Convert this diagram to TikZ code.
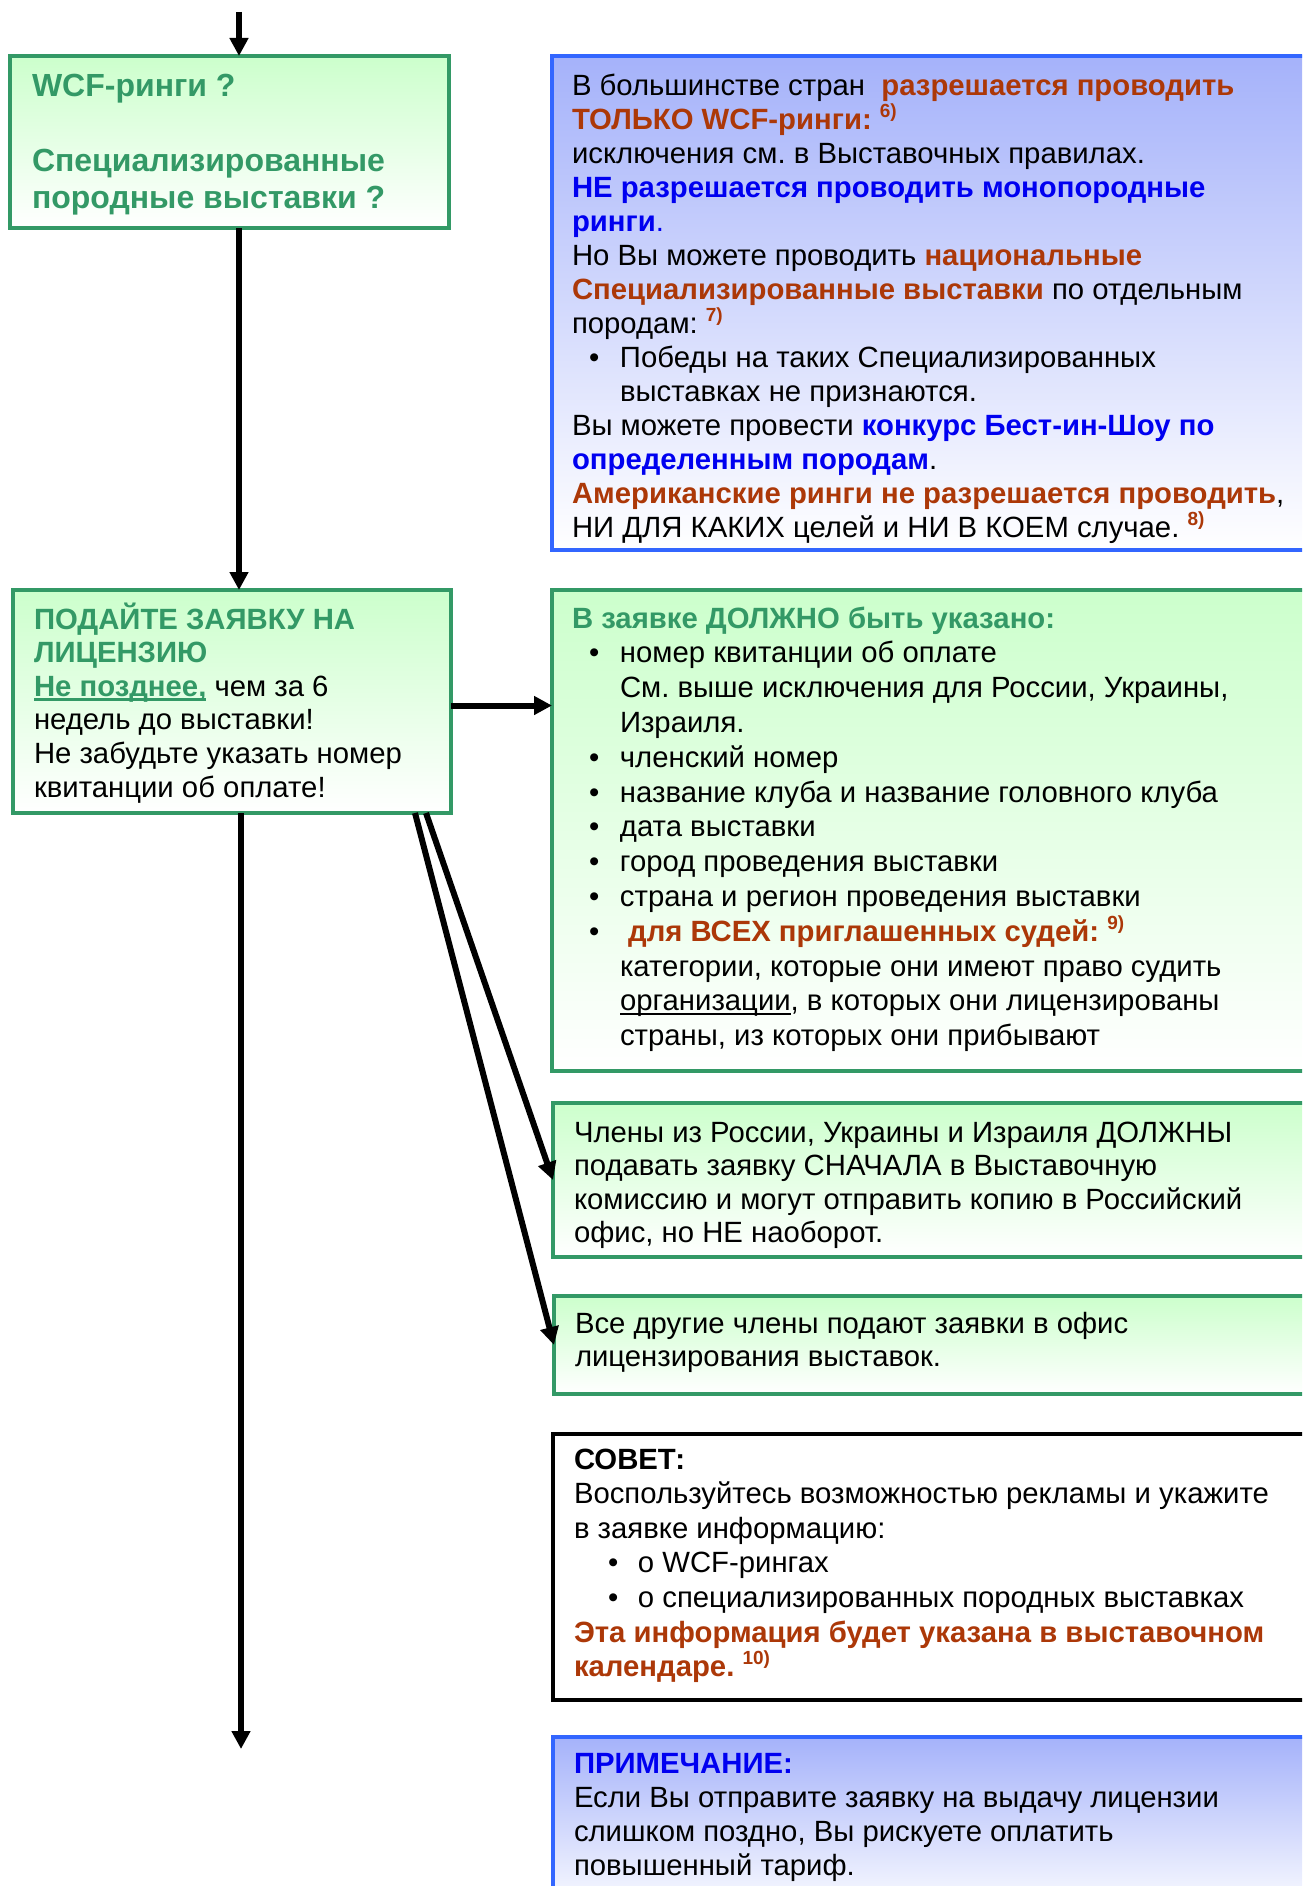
\documentclass[tikz,border=0pt]{standalone}
\usepackage{fontspec}
\setmainfont{Liberation Sans}
\usetikzlibrary{arrows.meta,calc}
\definecolor{gr}{RGB}{51,153,102}
\definecolor{grfill}{RGB}{204,255,204}
\definecolor{bl}{RGB}{51,102,255}
\definecolor{blfill}{RGB}{165,178,250}
\definecolor{org}{RGB}{172,56,8}
\definecolor{blt}{RGB}{0,0,240}
\newsavebox\ulbox
\newcommand\myul[2]{\sbox\ulbox{#2}\rlap{\rule[-4.5pt]{\wd\ulbox}{#1}}\usebox\ulbox}
\newcommand\fnm[1]{\raisebox{12pt}{\fontsize{19}{19}\selectfont\bfseries\color{org}#1}}
\newcommand\bul{\hspace*{17pt}\makebox[31pt][l]{•}}
\newcommand\bulE{\hspace*{34pt}\makebox[30pt][l]{•}}
\newcommand\ind{\hspace*{48pt}}
\newcommand\fs{\rule{0pt}{28pt}}
\frenchspacing
\begin{document}
\begin{tikzpicture}[x=1pt,y=-1pt,
  box/.style={draw,line width=4pt,outer sep=0pt,inner sep=0pt,anchor=north west},
  gbox/.style={box,draw=gr,top color=grfill,bottom color=white},
  bbox/.style={box,draw=bl,top color=blfill,bottom color=white},
  kbox/.style={box,draw=black,fill=white},
  txt/.style={anchor=north west,inner sep=0pt,outer sep=0pt,align=left,font=\fontsize{29.3}{33.6}\selectfont},
  arr/.style={line width=6pt,-{Triangle[width=18pt,length=18pt]}}
]
\useasboundingbox (0,0) rectangle (1302,1886);
\clip (0,0) rectangle (1302,1886);

% boxes
\node[gbox,minimum width=439pt,minimum height=172pt] (b1) at (10,56) {};
\node[gbox,minimum width=438pt,minimum height=223pt] (b2) at (13,590) {};
\node[bbox,minimum width=770pt,minimum height=494pt] (bA) at (552,56) {};
\node[gbox,minimum width=770pt,minimum height=481pt] (bB) at (552,590) {};
\node[gbox,minimum width=770pt,minimum height=154pt] (bC) at (553,1103) {};
\node[gbox,minimum width=770pt,minimum height=98pt] (bD) at (554,1296) {};
\node[kbox,minimum width=770pt,minimum height=266pt] (bE) at (553,1434) {};
\node[bbox,minimum width=770pt,minimum height=180pt] (bF) at (553,1737) {};

% connectors
\coordinate (top) at (239,12);
\coordinate (vend) at (241,1749);
\draw[arr] (top) -- (top |- b1.north);
\draw[arr] (b1.south -| top) -- (b2.north -| top);
\draw[arr] (b2.south -| vend) -- (vend);
\draw[arr] ([yshift=-4pt]b2.east) -- ([yshift=-4pt]b2.east -| bB.west);
\draw[arr] ([xshift=413pt]b2.south west) -- (bC.west);
\draw[arr] ([xshift=402pt]b2.south west) -- (bD.west);

% texts
\node[txt,font=\fontsize{32}{37}\selectfont\bfseries,text=gr] (t1) at (32,67)
{\rule{0pt}{30pt}WCF-ринги ?\\[38pt]Специализированные\\породные выставки ?};

\node[txt] (t2) at (34,601)
{\fs\textcolor{gr}{\bfseries ПОДАЙТЕ ЗАЯВКУ НА}\\
\textcolor{gr}{\bfseries ЛИЦЕНЗИЮ}\\
{\color{gr}\bfseries\myul{2.5pt}{Не позднее,}} чем за 6\\
недель до выставки!\\
Не забудьте указать номер\\
квитанции об оплате!};

\node[txt,font=\fontsize{29.3}{34}\selectfont] (tA) at (572,67)
{\fs В большинстве стран\ \ \textcolor{org}{\bfseries разрешается проводить}\\
\textcolor{org}{\bfseries ТОЛЬКО WCF-ринги:} \fnm{6)}\\
исключения см. в Выставочных правилах.\\
\textcolor{blt}{\bfseries НЕ разрешается проводить монопородные}\\
\textcolor{blt}{\bfseries ринги}\textcolor{blt}{.}\\
Но Вы можете проводить \textcolor{org}{\bfseries национальные}\\
\textcolor{org}{\bfseries Специализированные выставки} по отдельным\\
породам: \fnm{7)}\\
\bul Победы на таких Специализированных\\
\ind выставках не признаются.\\
Вы можете провести \textcolor{blt}{\bfseries конкурс Бест-ин-Шоу по}\\
\textcolor{blt}{\bfseries определенным породам}.\\
\textcolor{org}{\bfseries Американские ринги не разрешается проводить},\\
НИ ДЛЯ КАКИХ целей и НИ В КОЕМ случае. \fnm{8)}};

\node[txt,font=\fontsize{29.3}{34.8}\selectfont] (tB) at (572,600)
{\fs\textcolor{gr}{\bfseries В заявке ДОЛЖНО быть указано:}\\
\bul номер квитанции об оплате\\
\ind См. выше исключения для России, Украины,\\
\ind Израиля.\\
\bul членский номер\\
\bul название клуба и название головного клуба\\
\bul дата выставки\\
\bul город проведения выставки\\
\bul страна и регион проведения выставки\\
\bul\ \textcolor{org}{\bfseries для ВСЕХ приглашенных судей:} \fnm{9)}\\
\ind категории, которые они имеют право судить\\
\ind\myul{2pt}{организации}, в которых они лицензированы\\
\ind страны, из которых они прибывают};

\node[txt] (tC) at (574,1114)
{\fs Члены из России, Украины и Израиля ДОЛЖНЫ\\
подавать заявку СНАЧАЛА в Выставочную\\
комиссию и могут отправить копию в Российский\\
офис, но НЕ наоборот.};

\node[txt] (tD) at (575,1305)
{\fs Все другие члены подают заявки в офис\\
лицензирования выставок.};

\node[txt,font=\fontsize{29.3}{34.6}\selectfont] (tE) at (574,1441)
{\fs{\bfseries СОВЕТ:}\\
Воспользуйтесь возможностью рекламы и укажите\\
в заявке информацию:\\
\bulE о WCF-рингах\\
\bulE о специализированных породных выставках\\
\textcolor{org}{\bfseries Эта информация будет указана в выставочном}\\
\textcolor{org}{\bfseries календаре.} \fnm{10)}};

\node[txt,font=\fontsize{29.3}{34}\selectfont] (tF) at (574,1745)
{\fs\textcolor{blt}{\bfseries ПРИМЕЧАНИЕ:}\\
Если Вы отправите заявку на выдачу лицензии\\
слишком поздно, Вы рискуете оплатить\\
повышенный тариф.};
\end{tikzpicture}
\end{document}
